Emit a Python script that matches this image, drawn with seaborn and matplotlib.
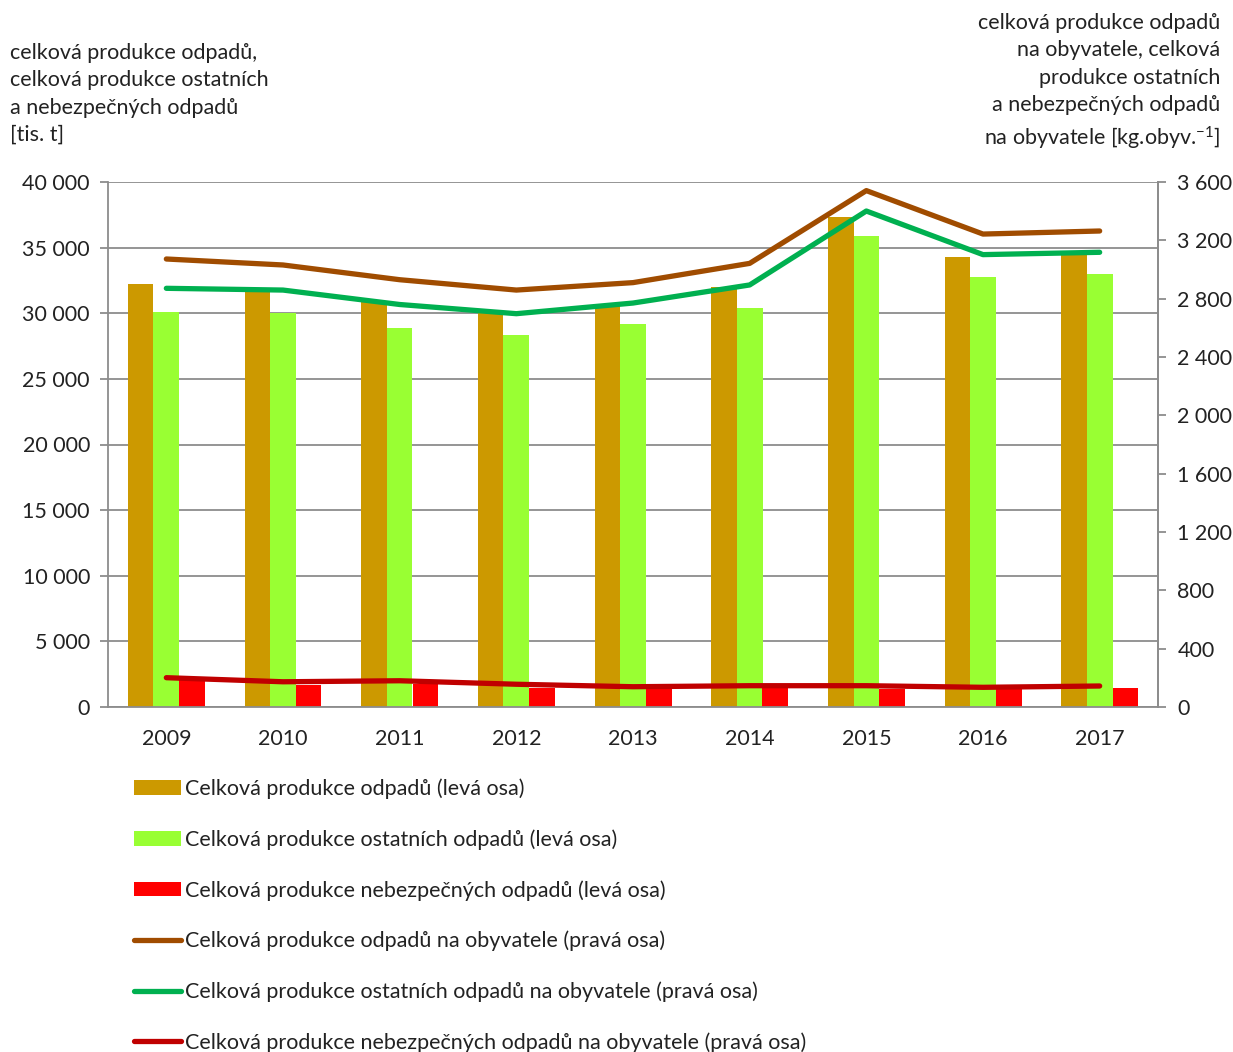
import numpy as np
import pandas as pd
import matplotlib.pyplot as plt
import seaborn as sns
from matplotlib.patches import Patch
from matplotlib.lines import Line2D

years = ["2009", "2010", "2011", "2012", "2013", "2014", "2015", "2016", "2017"]
total = [32250, 31800, 30850, 30170, 30550, 32020, 37360, 34260, 34670]
other = [30100, 30000, 28850, 28340, 29180, 30420, 35860, 32760, 33010]
hazardous = [2150, 1700, 1730, 1470, 1420, 1420, 1370, 1350, 1470]
total_pc = [3072, 3031, 2930, 2859, 2910, 3042, 3541, 3243, 3264]
other_pc = [2871, 2859, 2760, 2697, 2770, 2894, 3401, 3102, 3118]
haz_pc = [201, 173, 180, 156, 139, 146, 146, 135, 144]

bar_names = ["Celková produkce odpadů (levá osa)",
             "Celková produkce ostatních odpadů (levá osa)",
             "Celková produkce nebezpečných odpadů (levá osa)"]
line_names = ["Celková produkce odpadů na obyvatele (pravá osa)",
              "Celková produkce ostatních odpadů na obyvatele (pravá osa)",
              "Celková produkce nebezpečných odpadů na obyvatele (pravá osa)"]
bar_colors = ["#CC9900", "#99FF33", "#FF0000"]
line_colors = ["#A04C00", "#00B050", "#C00000"]

sns.set_theme(style="white")
plt.rcParams["font.family"] = ["Lato", "DejaVu Sans"]
plt.rcParams["mathtext.fontset"] = "custom"
plt.rcParams["mathtext.rm"] = "Lato"
plt.rcParams["mathtext.default"] = "regular"
txt = "#222222"
gray = "#8c8c8c"
fs = 15.5

df = pd.DataFrame({
    "year": years * 3,
    "value": total + other + hazardous,
    "series": [bar_names[0]] * 9 + [bar_names[1]] * 9 + [bar_names[2]] * 9,
})

fig = plt.figure(figsize=(12.33, 10.52), dpi=100)
fig.subplots_adjust(left=108 / 1233, right=1158 / 1233, top=1 - 182 / 1052, bottom=1 - 707 / 1052)
ax = fig.add_subplot(111)

sns.barplot(data=df, x="year", y="value", hue="series", palette=bar_colors,
            width=0.66, gap=0, saturation=1, legend=False, ax=ax, zorder=2,
            linewidth=0, edgecolor="none")
ax.set_xlim(-0.5, 8.5)
ax.set_ylim(0, 40000)
ax.set_yticks(np.arange(0, 40001, 5000))
ax.set_yticklabels([f"{v:,}".replace(",", " ") for v in range(0, 40001, 5000)])
ax.set_xlabel("")
ax.set_ylabel("")
ax.yaxis.grid(True, color=gray, lw=1.3)
ax.set_axisbelow(True)
ax.set_xticks(range(9))
ax.set_xticklabels(years)
ax.set_xticks(np.arange(-0.5, 9, 1), minor=True)
ax.tick_params(axis="x", which="major", length=0, pad=16, labelsize=fs, labelcolor=txt)
ax.tick_params(axis="x", which="minor", length=6, width=1.3, color=gray, direction="out")
ax.tick_params(axis="y", length=6, width=1.3, color=gray, direction="out", left=True,
               labelsize=fs, labelcolor=txt, pad=7)
for s in ["left", "bottom", "right"]:
    ax.spines[s].set_color(gray)
    ax.spines[s].set_linewidth(1.3)
ax.spines["top"].set_visible(False)

ax2 = ax.twinx()
x = np.arange(9)
for vals, c in zip([total_pc, other_pc, haz_pc], line_colors):
    sns.lineplot(x=x, y=vals, ax=ax2, color=c, lw=3.8, solid_capstyle="round")
ax2.set_ylim(0, 3600)
ax2.set_yticks(np.arange(0, 3601, 400))
ax2.set_yticklabels([f"{v:,}".replace(",", " ") for v in range(0, 3601, 400)])
ax2.tick_params(axis="y", length=6, width=1.3, color=gray, direction="out", right=True,
                labelsize=fs, labelcolor=txt, pad=8)
for s in ["left", "bottom", "top"]:
    ax2.spines[s].set_visible(False)
ax2.spines["right"].set_color(gray)
ax2.spines["right"].set_linewidth(1.3)

fig.text(10 / 1233, 1 - 43 / 1052,
         "celková produkce odpadů,\ncelková produkce ostatních\na nebezpečných odpadů\n[tis. t]",
         ha="left", va="top", fontsize=fs, color=txt, linespacing=1.46)
fig.text(1220 / 1233, 1 - 13 / 1052,
         "celková produkce odpadů\nna obyvatele, celková\nprodukce ostatních\na nebezpečných odpadů\nna obyvatele [kg.obyv.$^{-1}$]",
         ha="right", va="top", fontsize=fs, color=txt, linespacing=1.46, multialignment="right")

handles = [Patch(facecolor=c, edgecolor="none") for c in bar_colors]
handles += [Line2D([], [], color=c, lw=3.8) for c in line_colors]
fig.legend(handles, bar_names + line_names, loc="upper left",
           bbox_to_anchor=(125 / 1233, 1 - 770 / 1052), frameon=False, ncol=1,
           fontsize=fs, labelcolor=txt, handlelength=2.2, handleheight=0.65,
           handletextpad=0.2, labelspacing=1.4, borderaxespad=0)

fig.savefig("out.png", dpi=100)
